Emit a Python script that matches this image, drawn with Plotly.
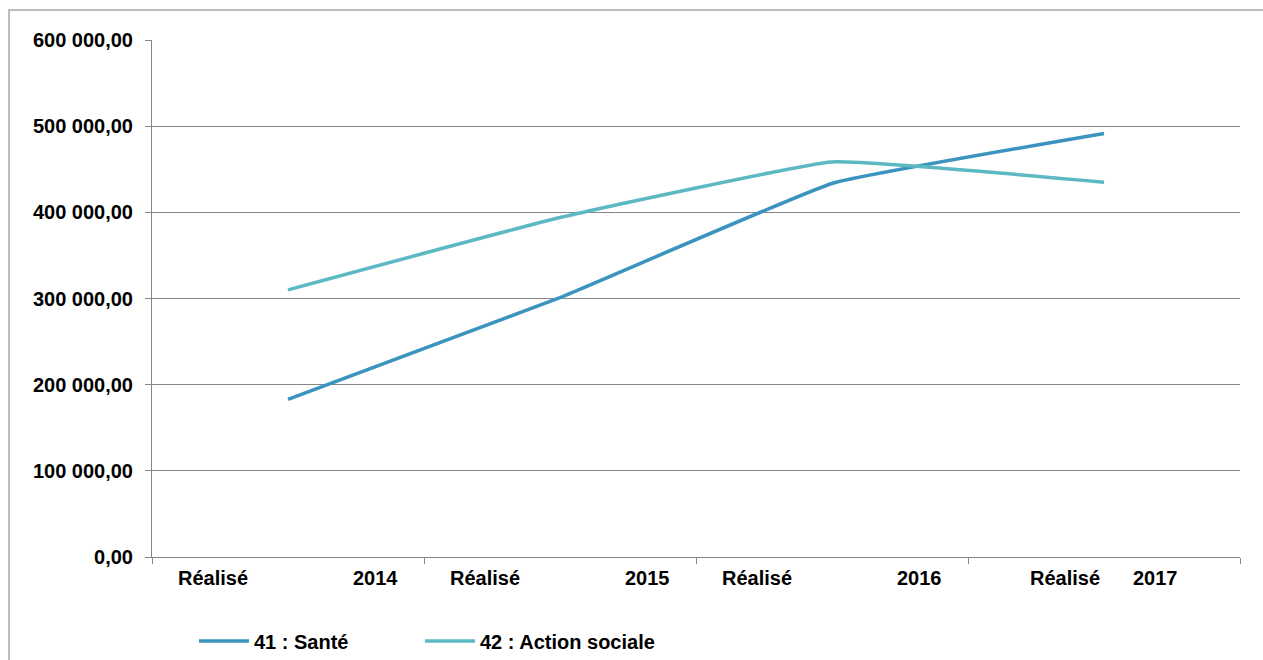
import plotly.graph_objects as go

# Categories and values
years = ["2014", "2015", "2016", "2017"]
prefix = "Réalisé"
sante = [183000, 301000, 433500, 491500]
action_sociale = [310000, 394000, 458500, 435000]

y_ticks = [0, 100000, 200000, 300000, 400000, 500000, 600000]
y_labels = ["0,00", "100 000,00", "200 000,00", "300 000,00",
            "400 000,00", "500 000,00", "600 000,00"]

FONT = "Liberation Sans, Arial, sans-serif"
FS = 20
x_pos = list(range(len(years)))

fig = go.Figure()
fig.add_trace(go.Scatter(
    x=x_pos, y=sante, name="41 : Santé", mode="lines", legend="legend",
    line=dict(color="#3A94BF", width=3.5, shape="spline", smoothing=0.3)
))
fig.add_trace(go.Scatter(
    x=x_pos, y=action_sociale, name="42 : Action sociale", mode="lines", legend="legend2",
    line=dict(color="#5CB8C3", width=3.5, shape="spline", smoothing=0.3)
))

# category labels: "Réalisé" on the left, year on the right
half = [0.41, 0.41, 0.41, 0.28]
for i, yr in enumerate(years):
    fig.add_annotation(x=i - half[i], y=0, yref="paper", yshift=-8,
                       text=prefix, showarrow=False, xanchor="left", yanchor="top",
                       font=dict(family=FONT, size=FS, color="black", weight="bold"))
    fig.add_annotation(x=i + half[i], y=0, yref="paper", yshift=-8,
                       text=yr, showarrow=False, xanchor="right", yanchor="top",
                       font=dict(family=FONT, size=FS, color="black", weight="bold"))

# outer chart frame (only top and left edges visible)
fig.add_shape(type="rect", xref="paper", yref="paper",
              x0=-0.1314, x1=1.2, y0=-0.5, y1=1.058,
              line=dict(color="#A6A6A6", width=1.5), layer="below")

leg_font = dict(family=FONT, size=FS, color="black", weight="bold")
fig.update_layout(
    width=1263, height=660,
    margin=dict(l=152, r=23, t=40, b=103),
    paper_bgcolor="white", plot_bgcolor="white",
    font=dict(family=FONT, size=FS, color="black"),
    showlegend=True,
    legend=dict(orientation="h", x=0.0386, xanchor="left", yref="container",
                y=0.0288, yanchor="middle",
                font=leg_font, itemwidth=50, bgcolor="rgba(0,0,0,0)"),
    legend2=dict(orientation="h", x=0.2463, xanchor="left", yref="container",
                 y=0.0288, yanchor="middle",
                 font=leg_font, itemwidth=50, bgcolor="rgba(0,0,0,0)"),
    xaxis=dict(range=[-0.5, 3.5], tickvals=[-0.5, 0.5, 1.5, 2.5, 3.5],
               ticktext=["", "", "", "", ""], ticks="outside", ticklen=6,
               tickcolor="#868686", showline=True, linecolor="#868686", linewidth=1,
               showgrid=False, zeroline=False, fixedrange=True),
    yaxis=dict(range=[0, 600000], tickvals=y_ticks, ticktext=y_labels,
               ticks="outside", ticklen=6, tickcolor="#868686",
               showline=True, linecolor="#868686", linewidth=1,
               showgrid=True, gridcolor="#868686", gridwidth=1, zeroline=False,
               tickfont=dict(family=FONT, size=FS, color="black", weight="bold"),
               ticklabelstandoff=8),
)

fig.write_html("out.html", config={"displayModeBar": False},
               post_script="document.body.style.margin='0';")
